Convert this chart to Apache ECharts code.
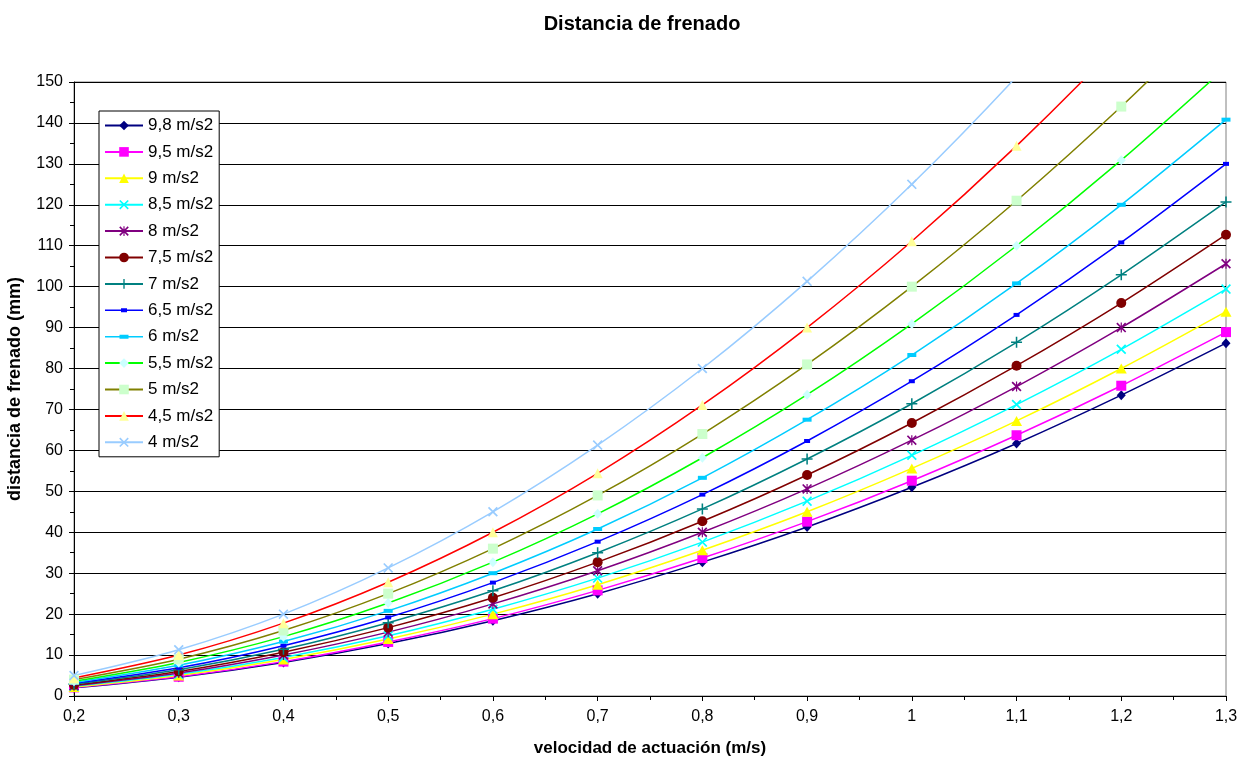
<!DOCTYPE html>
<html><head><meta charset="utf-8">
<script src="https://cdn.jsdelivr.net/npm/echarts@6/dist/echarts.min.js"></script>
<style>html,body{margin:0;padding:0;background:#fff}#c{width:1248px;height:758px}</style>
</head><body><div id="c"></div>
<script>
const velocities = [0.2,0.3,0.4,0.5,0.6,0.7,0.8,0.9,1.0,1.1,1.2,1.3];
const seriesNames = ['9,8 m/s2','9,5 m/s2','9 m/s2','8,5 m/s2','8 m/s2','7,5 m/s2','7 m/s2','6,5 m/s2','6 m/s2','5,5 m/s2','5 m/s2','4,5 m/s2','4 m/s2'];
const d98 = [2.0,4.6,8.2,12.8,18.4,25.0,32.7,41.3,51.0,61.7,73.5,86.2];
const d95 = [2.1,4.7,8.4,13.2,18.9,25.8,33.7,42.6,52.6,63.7,75.8,88.9];
const d90 = [2.2,5.0,8.9,13.9,20.0,27.2,35.6,45.0,55.6,67.2,80.0,93.9];
const d85 = [2.4,5.3,9.4,14.7,21.2,28.8,37.6,47.6,58.8,71.2,84.7,99.4];
const d80 = [2.5,5.6,10.0,15.6,22.5,30.6,40.0,50.6,62.5,75.6,90.0,105.6];
const d75 = [2.7,6.0,10.7,16.7,24.0,32.7,42.7,54.0,66.7,80.7,96.0,112.7];
const d70 = [2.9,6.4,11.4,17.9,25.7,35.0,45.7,57.9,71.4,86.4,102.9,120.7];
const d65 = [3.1,6.9,12.3,19.2,27.7,37.7,49.2,62.3,76.9,93.1,110.8,130.0];
const d60 = [3.3,7.5,13.3,20.8,30.0,40.8,53.3,67.5,83.3,100.8,120.0,140.8];
const d55 = [3.6,8.2,14.5,22.7,32.7,44.5,58.2,73.6,90.9,110.0,130.9,153.6];
const d50 = [4.0,9.0,16.0,25.0,36.0,49.0,64.0,81.0,100.0,121.0,144.0,169.0];
const d45 = [4.4,10.0,17.8,27.8,40.0,54.4,71.1,90.0,111.1,134.4,160.0,187.8];
const d40 = [5.0,11.3,20.0,31.3,45.0,61.3,80.0,101.3,125.0,151.3,180.0,211.3];
const yTicks = [0,10,20,30,40,50,60,70,80,90,100,110,120,130,140,150];

const allData = [d98,d95,d90,d85,d80,d75,d70,d65,d60,d55,d50,d45,d40];
const X = 'path://M0,1.2L1.2,0L5,3.8L8.8,0L10,1.2L6.2,5L10,8.8L8.8,10L5,6.2L1.2,10L0,8.8L3.8,5Z';
const AST = 'path://M0,1.2L1.2,0L5,3.8L8.8,0L10,1.2L6.2,5L10,8.8L8.8,10L5,6.2L1.2,10L0,8.8L3.8,5ZM4.4,0L5.6,0L5.6,10L4.4,10Z';
const PLUS = 'path://M4.3,0L5.7,0L5.7,4.3L10,4.3L10,5.7L5.7,5.7L5.7,10L4.3,10L4.3,5.7L0,5.7L0,4.3L4.3,4.3Z';
const styles = [
  {line:'#000080', mk:'#000080', sym:'diamond', size:[9,10]},
  {line:'#ff00ff', mk:'#ff00ff', sym:'rect', size:[10,10]},
  {line:'#ffff00', mk:'#ffff00', sym:'triangle', size:[11,10]},
  {line:'#00ffff', mk:'#00ffff', sym:X, size:[10,10]},
  {line:'#800080', mk:'#800080', sym:AST, size:[10,10]},
  {line:'#800000', mk:'#800000', sym:'circle', size:[10,10]},
  {line:'#008080', mk:'#008080', sym:PLUS, size:[11,11]},
  {line:'#0000ff', mk:'#0000ff', sym:'rect', size:[6,4]},
  {line:'#00ccff', mk:'#00ccff', sym:'rect', size:[9,4]},
  {line:'#00ff00', mk:'#ccffff', sym:'diamond', size:[9,10]},
  {line:'#808000', mk:'#ccffcc', sym:'rect', size:[10,10]},
  {line:'#ff0000', mk:'#ffff99', sym:'triangle', size:[10,10]},
  {line:'#99ccff', mk:'#99ccff', sym:X, size:[10,10]}
];
const series = allData.map((arr,i)=>({
  name: seriesNames[i], type:'line', smooth:0.3, clip:true,
  data: arr.map((y,j)=>[velocities[j], y]),
  symbol: styles[i].sym, symbolSize: styles[i].size, showAllSymbol:true,
  lineStyle:{color:styles[i].line, width:1.5},
  itemStyle:{color:styles[i].mk, borderWidth:0},
  emphasis:{disabled:true}, animation:false
}));
// small-dash legend icons (line + short bar) for 6,5 and 6 m/s2
const dashIcon = (w)=>'path://M0,0L0.01,0L0,0.01ZM38,12L37.99,12L38,11.99Z' +
  'M0,5.25L38,5.25L38,6.75L0,6.75Z' +
  'M'+(19-w/2)+',4L'+(19+w/2)+',4L'+(19+w/2)+',8L'+(19-w/2)+',8Z';
const legendData = seriesNames.map((n,i)=>{
  if (i===7) return {name:n, icon:dashIcon(6)};
  if (i===8) return {name:n, icon:dashIcon(9)};
  return {name:n};
});
const font = 'Arial, "Liberation Sans", sans-serif';
const chart = echarts.init(document.getElementById('c'), null, {renderer:'canvas'});
chart.setOption({
  animation:false,
  backgroundColor:'#fff',
  title:{text:'Distancia de frenado', left:637, textAlign:'center', top:9,
    textStyle:{fontFamily:font, fontSize:20, fontWeight:'bold', color:'#000'}},
  grid:{left:74, right:22, top:82, bottom:62, show:true, borderColor:'#808080', borderWidth:1,
    outerBoundsMode:'none', containLabel:false},
  legend:{orient:'vertical', left:99, top:111, backgroundColor:'#fff', borderColor:'#000', borderWidth:1,
    padding:[6,6,6,5], itemWidth:38, itemHeight:12, itemGap:9.4,
    textStyle:{fontFamily:font, fontSize:17, color:'#000'}, data:legendData},
  xAxis:{type:'value', min:0.2, max:1.3, interval:0.1,
    name:'velocidad de actuación (m/s)', nameLocation:'middle', nameGap:44,
    nameTextStyle:{fontFamily:font, fontSize:17, fontWeight:'bold', color:'#000'},
    axisLine:{lineStyle:{color:'#000', width:1}},
    axisTick:{show:true, length:5, lineStyle:{color:'#000'}},
    minorTick:{show:true, splitNumber:2, length:4, lineStyle:{color:'#000'}},
    axisLabel:{fontFamily:font, fontSize:16, color:'#000', margin:13,
      formatter:v=>{const r=Math.round(v*10)/10; return String(r).replace('.',',');}},
    splitLine:{show:false}},
  yAxis:{type:'value', min:0, max:150, interval:10,
    name:'distancia de frenado (mm)', nameLocation:'middle', nameGap:50, nameRotate:90,
    nameTextStyle:{fontFamily:font, fontSize:18, fontWeight:'bold', color:'#000'},
    axisLine:{show:true, lineStyle:{color:'#000', width:1}},
    axisTick:{show:true, length:5, lineStyle:{color:'#000'}},
    minorTick:{show:true, splitNumber:2, length:4, lineStyle:{color:'#000'}},
    axisLabel:{fontFamily:font, fontSize:16, color:'#000', margin:11,
      formatter:v=>yTicks.includes(v)?String(v):''},
    splitLine:{show:true, lineStyle:{color:'#000', width:1}}},
  series: series
});
</script></body></html>
